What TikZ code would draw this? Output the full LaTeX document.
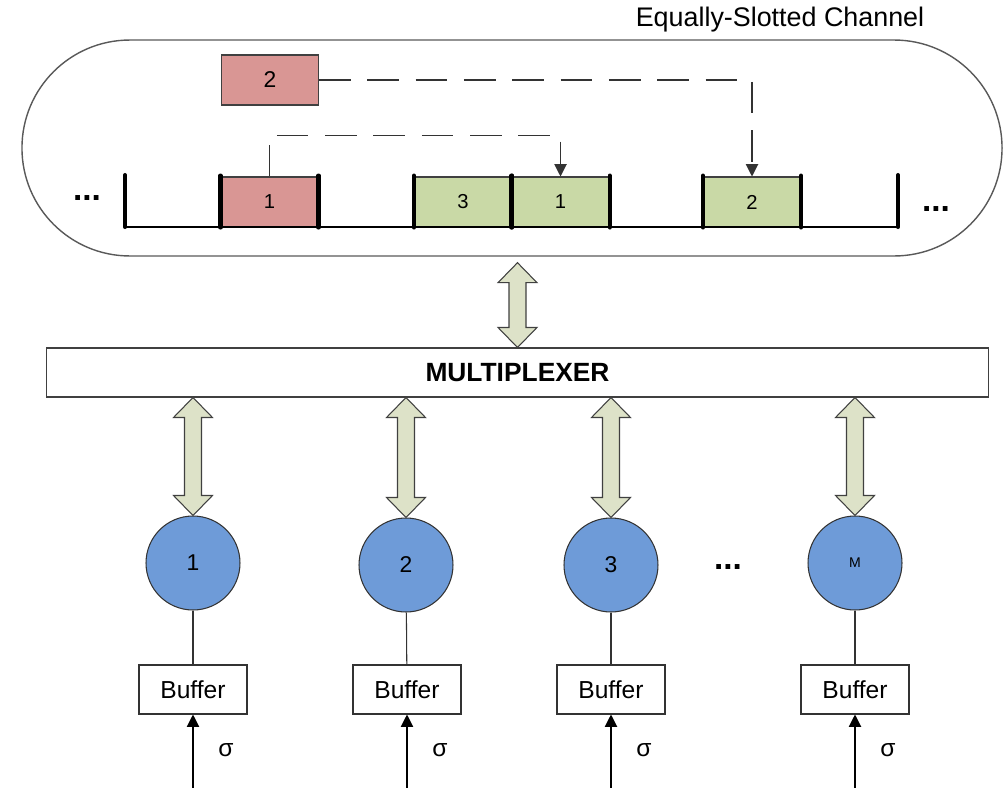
\documentclass[tikz,border=0pt]{standalone}
\usepackage{fontspec}
\setmainfont{Liberation Sans}
\usetikzlibrary{arrows.meta, calc, shapes.misc}
\definecolor{slotred}{HTML}{D99694}
\definecolor{slotgreen}{HTML}{C9D9A6}
\definecolor{stnblue}{HTML}{6E9BD8}
\definecolor{linkfill}{HTML}{DDE2C8}
\definecolor{edgegray}{HTML}{404040}
\tikzset{
    slot/.style={draw=edgegray,line width=0.6pt,minimum width=1.94cm,minimum height=1cm,inner sep=0pt,font=\fontsize{11.5}{13}\selectfont},
    rslot/.style={slot,fill=slotred},
    gslot/.style={slot,fill=slotgreen},
    wall/.style={line width=2.3pt,line cap=round},
    dots/.style={font=\fontsize{19}{22}\selectfont\bfseries},
    station/.style={circle,draw=black!80,line width=0.6pt,fill=stnblue,minimum size=1.88cm,inner sep=0pt,font=\fontsize{13}{15}\selectfont},
    buffer/.style={draw=black!80,line width=0.6pt,minimum width=2.16cm,minimum height=0.98cm,inner sep=0pt,font=\fontsize{14}{16}\selectfont},
    mux/.style={draw=black!75,line width=0.6pt,minimum width=18.86cm,minimum height=0.98cm,inner sep=0pt,font=\fontsize{15}{18}\selectfont\bfseries},
    txarrow/.style={draw=black!80,line width=0.6pt,dash pattern=on 18pt off 9.5pt,-{Triangle[width=7pt,length=7pt]}},
    inarrow/.style={line width=0.6pt,-{Triangle[width=7pt,length=7pt]}},
    tie/.style={draw=black!80,line width=0.6pt},
    link/.style={draw=black!75,fill=linkfill,line width=0.6pt,line join=miter},
}
% fat two-headed arrow between two points stacked vertically
\newcommand\duplexlink[2]{%
    \draw[link] let \p1=(#1), \p2=(#2) in
        (\x1,\y1) -- (\x1+0.39cm,\y1-0.4cm) -- (\x1+0.17cm,\y1-0.4cm)
        -- (\x1+0.17cm,\y2+0.4cm) -- (\x1+0.39cm,\y2+0.4cm) -- (\x1,\y2)
        -- (\x1-0.39cm,\y2+0.4cm) -- (\x1-0.17cm,\y2+0.4cm)
        -- (\x1-0.17cm,\y1-0.4cm) -- (\x1-0.39cm,\y1-0.4cm) -- cycle;}

\begin{document}
\begin{tikzpicture}[x=0.02cm,y=-0.02cm]
\useasboundingbox (0,0) rectangle (1008,788);

% channel
\node[rounded rectangle,draw=black!65,line width=0.8pt,minimum width=19.84cm,minimum height=4.32cm] (chan) at (512,148) {};
\node[font=\fontsize{15.3}{18}\selectfont] (title) at (780,20) {Equally-Slotted Channel};

\node[rslot,font=\fontsize{13}{15}\selectfont] (p2) at (270,80) {2};
\node[rslot] (s1) at (269.5,202) {1};
\node[gslot] (s3) at (463,202) {3};
\node[gslot] (s4) at (560.5,202) {1};
\node[gslot] (s5) at (752,202) {2};

\coordinate (lend) at (125,227);
\coordinate (rend) at (898,227);
\draw[line width=1.7pt] (lend) -- (rend);
\draw[wall] (lend) -- ++(0,-52) (rend) -- ++(0,-52);
\foreach \s in {s1,s3,s4,s5}
    \draw[wall] (\s.south west) -- ++(0,-52) (\s.south east) -- ++(0,-52);

\node[dots] (ldots) at (87,198) {...};
\node[dots] (rdots) at (936,209) {...};

\draw[txarrow] (p2.east) -| (s5.north);
\draw[txarrow] (s1.north) -- ++(0,-41) -| (s4.north);

% multiplexer
\node[mux] (mux) at (517.5,372.5) {MULTIPLEXER};
\duplexlink{$(mux.north |- chan.south)+(0,6)$}{mux.north}

% stations
\node[station] (st1) at (193,563) {1};
\node[station] (st2) at (406,565) {2};
\node[station] (st3) at (611,565) {3};
\node[station,font=\fontsize{8}{10}\selectfont] (stM) at (855,563) {M};
\node[dots] (sdots) at (728,567) {...};

\duplexlink{mux.south -| st1.north}{st1.north}
\duplexlink{mux.south -| st2.north}{st2.north}
\duplexlink{mux.south -| st3.north}{st3.north}
\duplexlink{mux.south -| stM.north}{stM.north}

\node[buffer] (b1) at (193,689.5) {Buffer};
\node[buffer] (b2) at (407,689.5) {Buffer};
\node[buffer] (b3) at (611,689.5) {Buffer};
\node[buffer] (bM) at (855,689.5) {Buffer};
\draw[tie] (st1) -- (b1);
\draw[tie] (st2) -- (b2);
\draw[tie] (st3) -- (b3);
\draw[tie] (stM) -- (bM);

% arrivals
\coordinate (in1) at (193,788);
\coordinate (in2) at (407,788);
\coordinate (in3) at (611,788);
\coordinate (inM) at (855,788);
\draw[inarrow] (in1) -- (b1.south);
\draw[inarrow] (in2) -- (b2.south);
\draw[inarrow] (in3) -- (b3.south);
\draw[inarrow] (inM) -- (bM.south);
\node[font=\fontsize{14}{16}\selectfont] (sg1) at (226,750) {σ};
\node[font=\fontsize{14}{16}\selectfont] (sg2) at (440,750) {σ};
\node[font=\fontsize{14}{16}\selectfont] (sg3) at (644,750) {σ};
\node[font=\fontsize{14}{16}\selectfont] (sgM) at (888,750) {σ};
\end{tikzpicture}
\end{document}
